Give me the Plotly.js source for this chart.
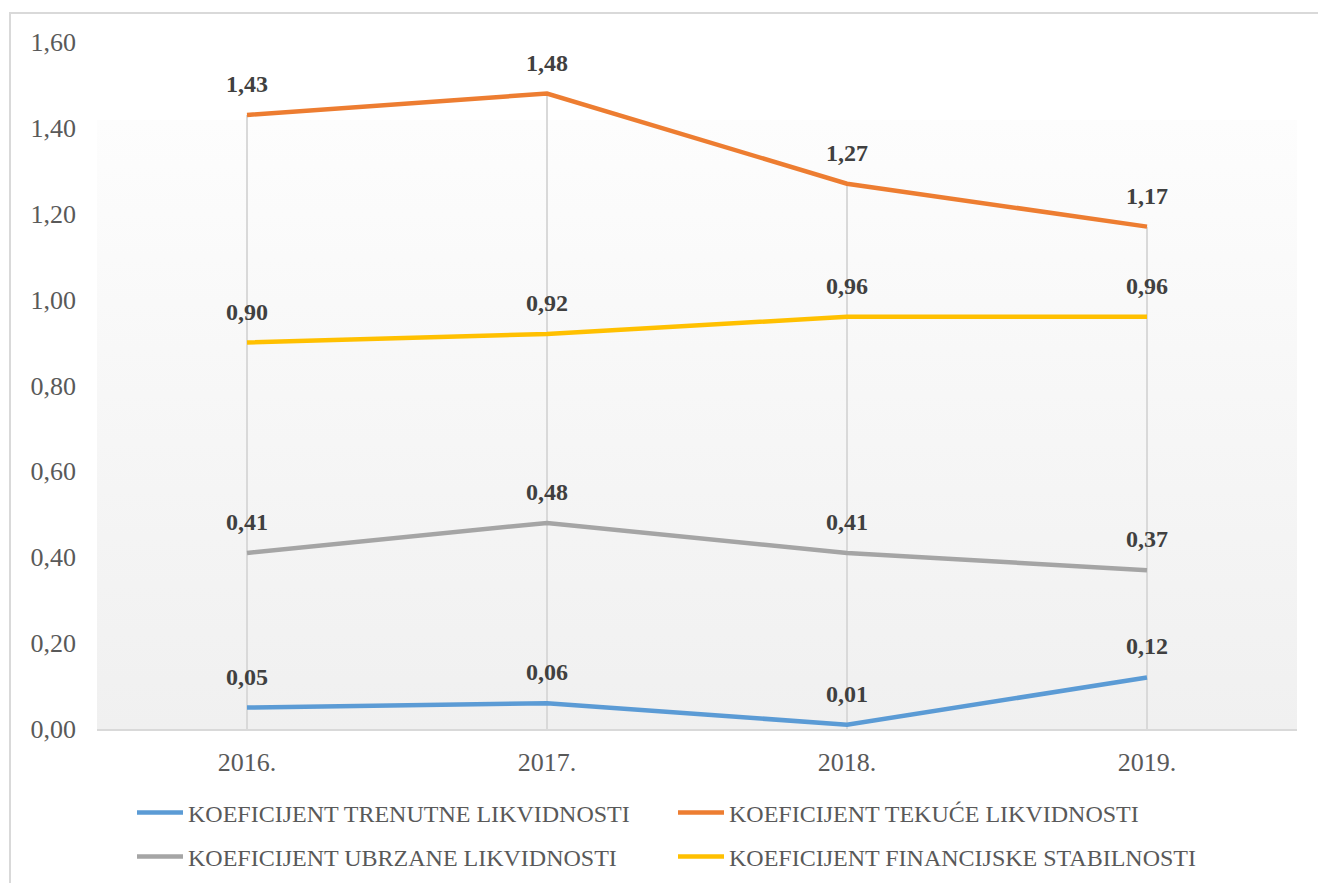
<!DOCTYPE html>
<html>
<head>
<meta charset="utf-8">
<script src="https://cdn.plot.ly/plotly-3.0.1.min.js"></script>
<style>
  html, body { margin: 0; padding: 0; width: 1318px; height: 883px; overflow: hidden; background: #ffffff; }
  #frame { position: absolute; left: 9px; top: 12px; width: 1400px; height: 1000px; border: 2px solid #d9d9d9; box-sizing: border-box; }
  #bg { position: absolute; left: 97px; top: 120px; width: 1200px; height: 609px;
        background: linear-gradient(to bottom, #fdfdfd 0%, #f7f7f7 45%, #f0f0f0 100%); }
  #chart { position: absolute; left: 0; top: 0; width: 1318px; height: 883px; }
  #err { position: absolute; left: 300px; top: 300px; color: red; font-size: 14px; }
</style>
</head>
<body>
<div id="frame"></div>
<div id="bg"></div>
<div id="chart"></div>
<pre id="err"></pre>
<script>
const categories = ['2016.', '2017.', '2018.', '2019.'];
const seriesNames = [
  'KOEFICIJENT TRENUTNE LIKVIDNOSTI',
  'KOEFICIJENT TEKUĆE LIKVIDNOSTI',
  'KOEFICIJENT UBRZANE LIKVIDNOSTI',
  'KOEFICIJENT FINANCIJSKE STABILNOSTI'
];
const trenutne = [0.05, 0.06, 0.01, 0.12];
const tekuce = [1.43, 1.48, 1.27, 1.17];
const ubrzane = [0.41, 0.48, 0.41, 0.37];
const financijske = [0.90, 0.92, 0.96, 0.96];
const yTicks = [0, 0.2, 0.4, 0.6, 0.8, 1.0, 1.2, 1.4, 1.6];

const allSeries = [trenutne, tekuce, ubrzane, financijske];
const colors = ['#5B9BD5', '#ED7D31', '#A5A5A5', '#FFC000'];
const legendIds = ['legend', 'legend', 'legend2', 'legend2'];

// drop lines from the highest value down to the axis at each category
const dropX = [], dropY = [];
categories.forEach((c, i) => {
  const mx = Math.max(...allSeries.map(s => s[i]));
  dropX.push(c, c, null);
  dropY.push(mx, 0, null);
});

const traces = [{
  x: dropX, y: dropY, mode: 'lines', type: 'scatter',
  line: { color: '#d9d9d9', width: 2 }, showlegend: false, hoverinfo: 'skip'
}];
allSeries.forEach((s, k) => {
  traces.push({
    x: categories, y: s, name: seriesNames[k], type: 'scatter', mode: 'lines',
    line: { color: colors[k], width: 4.5 }, legend: legendIds[k]
  });
});

const fmt = v => v.toFixed(2).replace('.', ',');
const annotations = [];
allSeries.forEach(s => {
  s.forEach((v, i) => {
    annotations.push({
      x: i, y: v, xref: 'x', yref: 'y', text: '<b>' + fmt(v) + '</b>', showarrow: false,
      yshift: 31, font: { family: 'Liberation Serif, Times New Roman, serif', size: 24, color: '#404040' }
    });
  });
});

const legendCommon = {
  orientation: 'h', xanchor: 'left', yanchor: 'middle',
  entrywidth: 480, entrywidthmode: 'pixels', itemwidth: 46,
  bgcolor: 'rgba(0,0,0,0)', borderwidth: 0, traceorder: 'normal',
  font: { family: 'Liberation Serif, Times New Roman, serif', size: 24, color: '#595959' }
};

const layout = {
  width: 1318, height: 883,
  margin: { l: 97, r: 21, t: 42, b: 154, autoexpand: false },
  paper_bgcolor: 'rgba(0,0,0,0)', plot_bgcolor: 'rgba(0,0,0,0)',
  separators: ',.',
  font: { family: 'Liberation Serif, Times New Roman, serif', color: '#595959' },
  xaxis: {
    type: 'category', range: [-0.5, 3.5], showgrid: false, zeroline: false,
    showline: true, linecolor: '#d9d9d9', linewidth: 2, ticks: '',
    tickfont: { size: 26, color: '#595959' }, ticklabelstandoff: 9, fixedrange: true
  },
  yaxis: {
    range: [0, 1.6], tickvals: yTicks, tickformat: '.2f', showgrid: false, zeroline: false,
    showline: false, ticks: '', tickfont: { size: 26, color: '#595959' }, ticklabelstandoff: 20, fixedrange: true
  },
  showlegend: true,
  legend: Object.assign({}, legendCommon, { x: (138 - 97) / 1200 - 0.005, y: (729 - 813) / 687 }),
  legend2: Object.assign({}, legendCommon, { x: (138 - 97) / 1200 - 0.005, y: (729 - 857) / 687 }),
  annotations: annotations
};

try {
  Plotly.newPlot('chart', traces, layout, { displayModeBar: false, staticPlot: true })
    .catch(e => { document.getElementById('err').textContent = 'ERR ' + e + '\n' + (e && e.stack); });
} catch (e) {
  document.getElementById('err').textContent = 'ERR ' + e + '\n' + (e && e.stack);
}
</script>
</body>
</html>
